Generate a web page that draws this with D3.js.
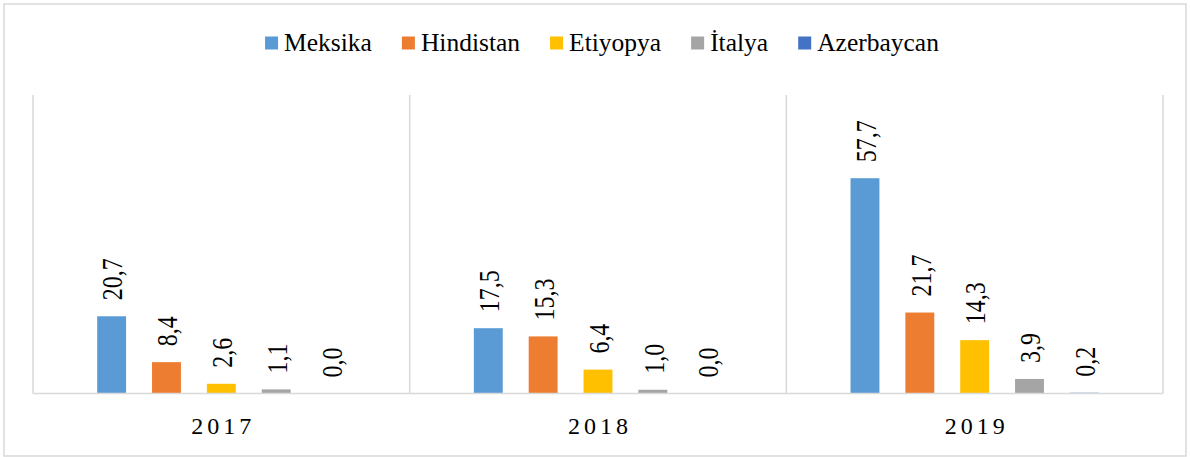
<!DOCTYPE html>
<html>
<head>
<meta charset="utf-8">
<script src="https://d3js.org/d3.v7.min.js"></script>
<style>
  body { margin: 0; background: #fff; }
</style>
</head>
<body>
<div id="chart"></div>
<script>
// data
var years = ["2017", "2018", "2019"];
var countries = ["Meksika", "Hindistan", "Etiyopya", "İtalya", "Azerbaycan"];
var meksika    = [20.7, 17.5, 57.7];
var hindistan  = [8.4, 15.3, 21.7];
var etiyopya   = [2.6, 6.4, 14.3];
var italya     = [1.1, 1.0, 3.9];
var azerbaycan = [0.0, 0.0, 0.2];
var colors = ["#5B9BD5", "#ED7D31", "#FFC000", "#A5A5A5", "#4472C4"];

var seriesValues = [meksika, hindistan, etiyopya, italya, azerbaycan];

var W = 1190, H = 457;
var plot = {left: 33, right: 1163, top: 95, bottom: 393.5};
var serif = "'Liberation Serif', 'Times New Roman', 'DejaVu Serif', serif";

var svg = d3.select("#chart").append("svg")
    .attr("width", W)
    .attr("height", H)
    .attr("font-family", serif);

// outer border
svg.append("rect")
    .attr("x", 4).attr("y", 4)
    .attr("width", 1182).attr("height", 452)
    .attr("fill", "none")
    .attr("stroke", "#d9d9d9")
    .attr("stroke-width", 1.5);

var x0 = d3.scaleBand()
    .domain(years)
    .range([plot.left, plot.right])
    .padding(0);

var x1 = d3.scaleBand()
    .domain(countries)
    .range([0, x0.bandwidth()])
    .paddingInner(0.473)
    .paddingOuter(1.17);

var y = d3.scaleLinear()
    .domain([0, 80])
    .range([plot.bottom, plot.top]);

// category dividers
var dividers = years.map(function(d) { return x0(d); }).concat([plot.right]);
svg.append("g").selectAll("line")
  .data(dividers)
  .enter().append("line")
    .attr("x1", function(d) { return d; })
    .attr("x2", function(d) { return d; })
    .attr("y1", plot.top)
    .attr("y2", plot.bottom)
    .attr("stroke", "#d9d9d9")
    .attr("stroke-width", 1.5);

// bars
var rows = [];
years.forEach(function(yr, i) {
  countries.forEach(function(c, j) {
    rows.push({year: yr, country: c, value: seriesValues[j][i], color: colors[j]});
  });
});

var g = svg.append("g");
g.selectAll("rect")
  .data(rows)
  .enter().append("rect")
    .attr("x", function(d) { return x0(d.year) + x1(d.country); })
    .attr("y", function(d) { return y(d.value); })
    .attr("width", x1.bandwidth())
    .attr("height", function(d) { return y(0) - y(d.value); })
    .attr("fill", function(d) { return d.color; });

// baseline
svg.append("line")
    .attr("x1", plot.left).attr("x2", plot.right)
    .attr("y1", y(0)).attr("y2", y(0))
    .attr("stroke", "#d9d9d9")
    .attr("stroke-width", 1.5);

// value labels, rotated
var fmt = d3.format(".1f");
g.selectAll("text.val")
  .data(rows)
  .enter().append("text")
    .attr("class", "val")
    .attr("transform", function(d) {
      var cx = x0(d.year) + x1(d.country) + x1.bandwidth() / 2 + 1;
      return "translate(" + cx + "," + (y(d.value) - 16) + ") rotate(-90) scale(1,1.2)";
    })
    .attr("dy", "0.34em")
    .attr("font-size", 24)
    .text(function(d) { return fmt(d.value).replace(".", ","); });

// category labels
svg.append("g").selectAll("text")
  .data(years)
  .enter().append("text")
    .attr("x", function(d) { return x0(d) + x0.bandwidth() / 2 + 2; })
    .attr("y", 434)
    .attr("text-anchor", "middle")
    .attr("font-size", 24)
    .attr("letter-spacing", 4)
    .text(function(d) { return d; });

// legend
var legend = svg.append("g");
var lx = 0;
countries.forEach(function(c, i) {
  legend.append("rect")
      .attr("x", lx).attr("y", 36.5)
      .attr("width", 13).attr("height", 13)
      .attr("fill", colors[i]);
  var t = legend.append("text")
      .attr("x", lx + 19)
      .attr("y", 51)
      .attr("font-size", 25.5)
      .text(c);
  lx += 19 + t.node().getComputedTextLength() + 30;
});
lx -= 30;
legend.attr("transform", "translate(" + (602 - lx / 2) + ",0)");
</script>
</body>
</html>
